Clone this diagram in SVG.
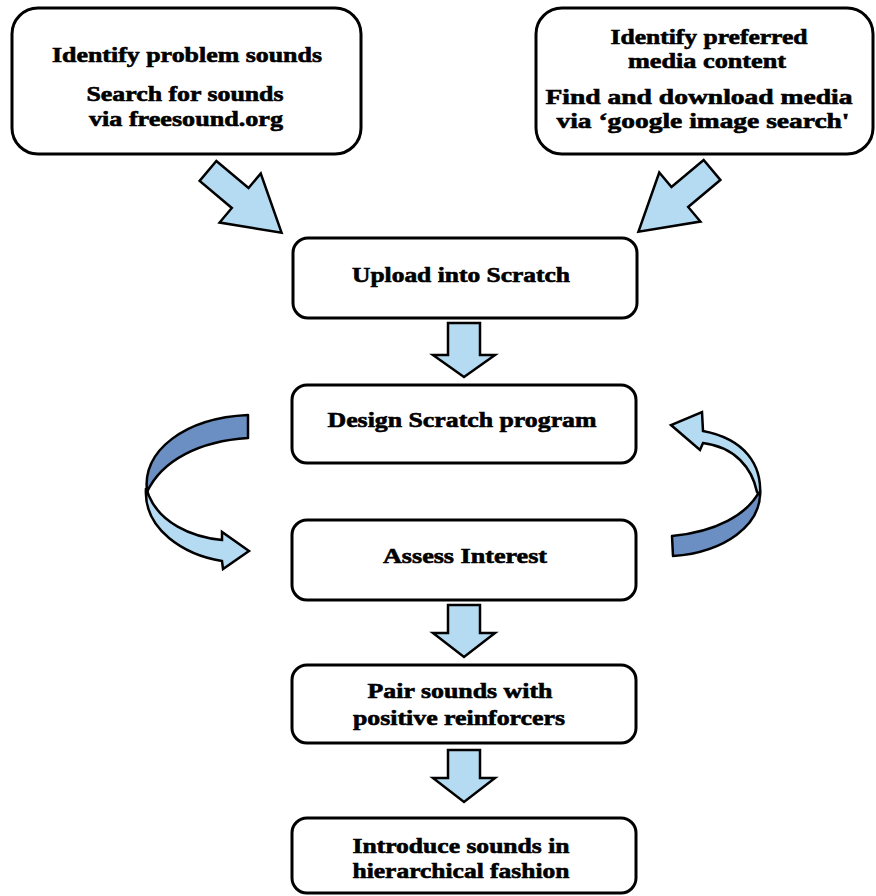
<svg xmlns="http://www.w3.org/2000/svg" width="876" height="896" viewBox="0 0 876 896">
<style>
.box{fill:#fff;stroke:#000;stroke-width:3}
.t{font-family:"Liberation Serif","Times New Roman",serif;font-weight:bold;font-size:21px;fill:#000;stroke:#000;stroke-width:0.6;text-anchor:middle}
.arr{fill:#b5dbf3;stroke:#000;stroke-width:2.5;stroke-linejoin:miter}
.dark{fill:#6b8fc2;stroke:#000;stroke-width:2.5;stroke-linejoin:round}
.light{fill:#b5dbf3;stroke:#000;stroke-width:2.5;stroke-linejoin:miter}
</style>
<defs>
<polygon id="diag" points="0,-13 42,-13 42,-32 96,0 42,32 42,13 0,13"/>
</defs>
<rect width="876" height="896" fill="#fff"/>

<g id="connectors">
<use href="#diag" class="arr" transform="translate(208,171) rotate(40)"/>
<use href="#diag" class="arr" transform="translate(712,170) rotate(140)"/>
<polygon class="arr" points="448,323 480,323 480,355 495,355 464,377 433,355 448,355"/>
<polygon class="arr" points="448,605 480,605 480,633 495,633 464,657 433,633 448,633"/>
<polygon class="arr" points="448,750 480,750 480,778 495,778 464,802 433,778 448,778"/>
<g id="loop-left">
<path class="dark" d="M248,415 L248,438 C200,441 162,460 147,492 C142,450 185,418 248,415 Z"/>
<path class="light" d="M146,488 C143,530 185,555 222,561 L223,569 L249,551 L222,532 L222,540 C190,537 160,522 149,496 Z"/>
</g>
<g id="loop-right">
<path class="dark" d="M672,536 L673,556 C725,552 762,525 760,490 C748,515 715,532 672,536 Z"/>
<path class="light" d="M760,495 C762,465 745,439 703,431 L702,412 L671,425 L700,450 L703,443 C735,447 752,468 757,492 Z"/>
</g>
</g>

<g id="n1">
<rect class="box" x="12" y="8" width="349" height="146" rx="26"/>
<text class="t" x="187" y="62" textLength="270" lengthAdjust="spacingAndGlyphs">Identify problem sounds</text>
<text class="t" x="185" y="101" textLength="197" lengthAdjust="spacingAndGlyphs">Search for sounds</text>
<text class="t" x="186" y="126" textLength="194" lengthAdjust="spacingAndGlyphs">via freesound.org</text>
</g>
<g id="n2">
<rect class="box" x="536" y="8" width="337" height="146" rx="26"/>
<text class="t" x="709" y="44" textLength="197" lengthAdjust="spacingAndGlyphs">Identify preferred</text>
<text class="t" x="707" y="68" textLength="158" lengthAdjust="spacingAndGlyphs">media content</text>
<text class="t" x="699" y="104" textLength="307" lengthAdjust="spacingAndGlyphs">Find and download media</text>
<text class="t" x="703" y="128" textLength="293" lengthAdjust="spacingAndGlyphs">via ‘google image search'</text>
</g>
<g id="n3">
<rect class="box" x="293" y="238" width="344" height="80" rx="15"/>
<text class="t" x="461" y="282" textLength="218" lengthAdjust="spacingAndGlyphs">Upload into Scratch</text>
</g>
<g id="n4">
<rect class="box" x="292" y="385" width="344" height="78" rx="15"/>
<text class="t" x="462" y="427" textLength="269" lengthAdjust="spacingAndGlyphs">Design Scratch program</text>
</g>
<g id="n5">
<rect class="box" x="292" y="520" width="344" height="80" rx="15"/>
<text class="t" x="465" y="563" textLength="164" lengthAdjust="spacingAndGlyphs">Assess Interest</text>
</g>
<g id="n6">
<rect class="box" x="292" y="665" width="344" height="78" rx="15"/>
<text class="t" x="460" y="698" textLength="185" lengthAdjust="spacingAndGlyphs">Pair sounds with</text>
<text class="t" x="459" y="725" textLength="212" lengthAdjust="spacingAndGlyphs">positive reinforcers</text>
</g>
<g id="n7">
<rect class="box" x="292" y="818" width="344" height="75" rx="15"/>
<text class="t" x="461" y="853" textLength="217" lengthAdjust="spacingAndGlyphs">Introduce sounds in</text>
<text class="t" x="461" y="878" textLength="217" lengthAdjust="spacingAndGlyphs">hierarchical fashion</text>
</g>
</svg>
